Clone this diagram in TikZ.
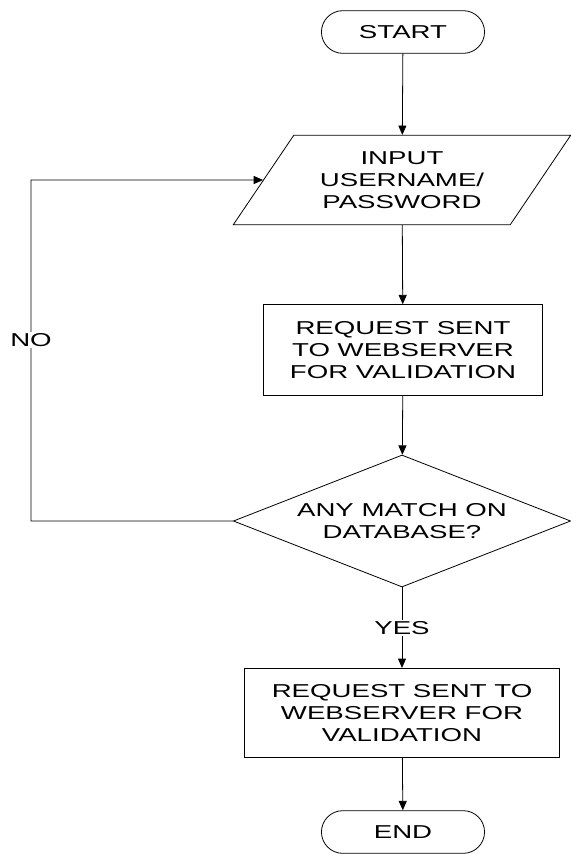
\documentclass[tikz,border=0pt]{standalone}
\usepackage{fontspec}
\setmainfont{Liberation Sans}[FakeStretch=1.48]
\usetikzlibrary{shapes.geometric,shapes.misc,arrows.meta}

\begin{document}
\begin{tikzpicture}[x=0.75pt,y=-0.75pt,line width=0.6pt,
  font=\fontsize{14}{16.7}\selectfont,
  >={Triangle[length=7pt,width=6pt]},
  term/.style={draw,rounded rectangle,minimum width=129pt,minimum height=32pt},
  io/.style={draw,trapezium,trapezium left angle=54,trapezium right angle=126,
    trapezium stretches=true,minimum width=253pt,minimum height=67pt,align=center},
  proc/.style={draw,rectangle,align=center,minimum height=67pt},
  decision/.style={draw,diamond,aspect=2.55,align=center,minimum width=253pt,
    minimum height=99pt,inner sep=0pt},
  lbl/.style={fill=white,inner sep=1pt}]

\useasboundingbox (0,0) rectangle (571,854);

\node[term] (start) at (403,32) {START};
\node[io] (input) at (402,180) {INPUT\\USERNAME/\\PASSWORD};
\node[proc,minimum width=209pt,minimum height=68pt] (req1) at (403,350) {REQUEST SENT\\TO WEBSERVER\\FOR VALIDATION};
\node[decision] (match) at (402,521) {ANY MATCH ON\\DATABASE?};
\node[proc,minimum width=236pt] (req2) at (402,713) {REQUEST SENT TO\\WEBSERVER FOR\\VALIDATION};
\node[term] (end) at (403,832) {END};

\coordinate (nobot) at (31,521);
\coordinate (notop) at (31,180);

\draw[->] (start)--(input);
\draw[->] (input)--(req1);
\draw[->] (req1)--(match);
\draw[->] (match)--(req2) node[lbl,pos=0.5]{YES};
\draw[->] (req2)--(end);
\draw[->] (match.west)--(nobot)--(notop) node[lbl,pos=0.53]{NO} --(input.west);

\end{tikzpicture}
\end{document}
